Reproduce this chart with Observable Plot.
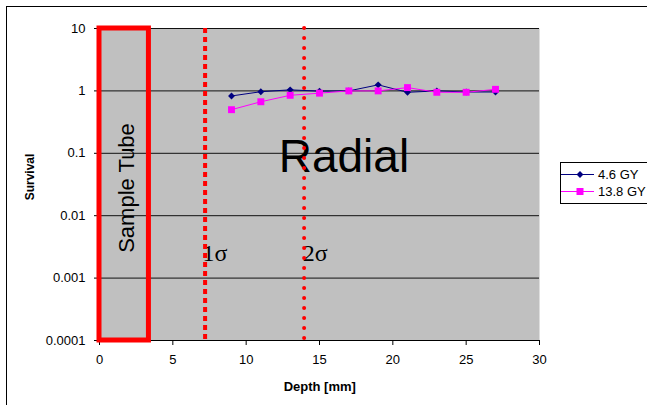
<!DOCTYPE html>
<html><head><meta charset="utf-8">
<script src="https://cdn.jsdelivr.net/npm/d3@7"></script>
<script src="https://cdn.jsdelivr.net/npm/@observablehq/plot@0.6"></script>
<style>
html,body{margin:0;padding:0;background:#fff;overflow:hidden;width:647px;height:405px;}
#wrap{position:relative;width:647px;height:405px;overflow:hidden;font-family:Arial,'Liberation Sans',sans-serif;}
#border{position:absolute;left:6px;top:6px;width:800px;height:600px;border:1px solid #000;box-sizing:border-box;}
#chart{position:absolute;left:0;top:0;}
#legend{position:absolute;left:560px;top:162px;width:120px;height:42px;border:1px solid #000;box-sizing:border-box;background:#fff;}
</style></head>
<body><div id="wrap"><div id="border"></div><div id="chart"></div><div id="legend"></div></div>
<script>
// ---- data ----
const depth = [9, 11, 13, 15, 17, 19, 21, 23, 25, 27];
const survival46 = [0.83, 0.97, 1.04, 0.99, 1.0, 1.25, 0.95, 1.0, 0.96, 0.96];
const survival138 = [0.50, 0.67, 0.85, 0.92, 1.0, 1.0, 1.13, 0.95, 0.95, 1.06];
const seriesNames = ["4.6 GY", "13.8 GY"];
const seriesColors = ["#000080", "#FF00FF"];
const yTicks = [0.0001, 0.001, 0.01, 0.1, 1, 10];
const yTickLabels = ["0.0001", "0.001", "0.01", "0.1", "1", "10"];
const xTicks = [0, 5, 10, 15, 20, 25, 30];
const sigmaDepths = [7.2, 13.95];
const sigmaLabels = ["1σ", "2σ"];
const sampleTube = [0, 3.37];

const rows46 = depth.map((d, i) => ({depth: d, s: survival46[i]}));
const rows138 = depth.map((d, i) => ({depth: d, s: survival138[i]}));

const plot = Plot.plot({
  width: 647, height: 405,
  marginLeft: 99, marginRight: 108, marginTop: 28, marginBottom: 65,
  x: {domain: [0, 30]},
  y: {type: "log", domain: [0.0001, 10]},
  style: {fontFamily: "Arial, 'Liberation Sans', sans-serif", fontSize: "13px", color: "#000", background: "transparent", overflow: "visible"},
  marks: [
    Plot.frame({fill: "#c0c0c0", stroke: "none"}),
    Plot.ruleY(yTicks, {stroke: "#111", strokeWidth: 1}),
    Plot.ruleX([0], {stroke: "#000"}),
    Plot.axisY({ticks: yTicks, tickFormat: d => yTickLabels[yTicks.indexOf(d)], tickSize: 5, tickPadding: 9, label: null, fontSize: 13}),
    Plot.axisX({ticks: xTicks, tickSize: 5, tickPadding: 9, label: null, fontSize: 13}),
    // annotations
    Plot.text(["Radial"], {x: 12.22, y: 0.051, text: d => d, textAnchor: "start", lineAnchor: "bottom", fontSize: 46, fill: "#000"}),
    Plot.text(["Sample Tube"], {x: 2.32, y: 0.0278, text: d => d, rotate: -90, textAnchor: "middle", lineAnchor: "bottom", fontSize: 22, fill: "#000"}),
    Plot.text(sigmaLabels, {x: [7.03, 13.86], y: [0.00191, 0.00191], text: d => d, textAnchor: "start", lineAnchor: "bottom", fontSize: 24, fontFamily: "'Times New Roman', 'Liberation Serif', serif", fill: "#000"}),
    Plot.text(["Survival"], {x: -4.5, y: 0.0417, text: d => d, rotate: -90, textAnchor: "middle", lineAnchor: "bottom", fontSize: 12, fontWeight: "bold", fill: "#000"}),
    Plot.text(["Depth [mm]"], {x: 15.02, y: 1.55e-5, text: d => d, textAnchor: "middle", lineAnchor: "bottom", fontSize: 13, fontWeight: "bold", fill: "#000"}),
    // series
    Plot.line(rows46, {x: "depth", y: "s", stroke: seriesColors[0], strokeWidth: 1}),
    Plot.dot(rows46, {x: "depth", y: "s", symbol: "diamond2", r: 3.1, fill: seriesColors[0]}),
    Plot.line(rows138, {x: "depth", y: "s", stroke: seriesColors[1], strokeWidth: 1}),
    Plot.dot(rows138, {x: "depth", y: "s", symbol: "square", r: 3.9, fill: seriesColors[1]}),
    Plot.ruleY([0.0001], {stroke: "#000", strokeWidth: 1}),
    // sample tube and sigma lines
    Plot.rect([{x1: sampleTube[0], x2: sampleTube[1]}], {x1: "x1", x2: "x2", y1: 0.0001, y2: 10, fill: "none", stroke: "#ff0000", strokeWidth: 5}),
    Plot.ruleX([sigmaDepths[0]], {stroke: "#ff0000", strokeWidth: 4, strokeDasharray: "5,4"}),
    Plot.ruleX([sigmaDepths[1]], {stroke: "#ff0000", strokeWidth: 4, strokeDasharray: "0,10", strokeLinecap: "round"})
  ]
});
document.getElementById("chart").appendChild(plot);

// legend
const ns = "http://www.w3.org/2000/svg";
const lg = d3.select("#legend").append("svg").attr("width", 120).attr("height", 42).style("display", "block");
seriesNames.forEach((name, i) => {
  const cy = i === 0 ? 11.5 : 28.5;
  const g = lg.append("g");
  g.append("line").attr("x1", 0).attr("x2", 33).attr("y1", cy).attr("y2", cy).attr("stroke", seriesColors[i]).attr("stroke-width", 1);
  if (i === 0) {
    g.append("path").attr("d", d3.symbol(d3.symbolDiamond2, Math.PI * 3.1 * 3.1)()).attr("transform", `translate(19,${cy})`).attr("fill", seriesColors[i]);
  } else {
    g.append("rect").attr("x", 19 - 3.5).attr("y", cy - 3.5).attr("width", 7).attr("height", 7).attr("fill", seriesColors[i]);
  }
  g.append("text").attr("x", 37).attr("y", cy + 4).attr("font-size", 13).attr("font-family", "Arial, 'Liberation Sans', sans-serif").attr("fill", "#000").text(name);
});
</script>
</body></html>
